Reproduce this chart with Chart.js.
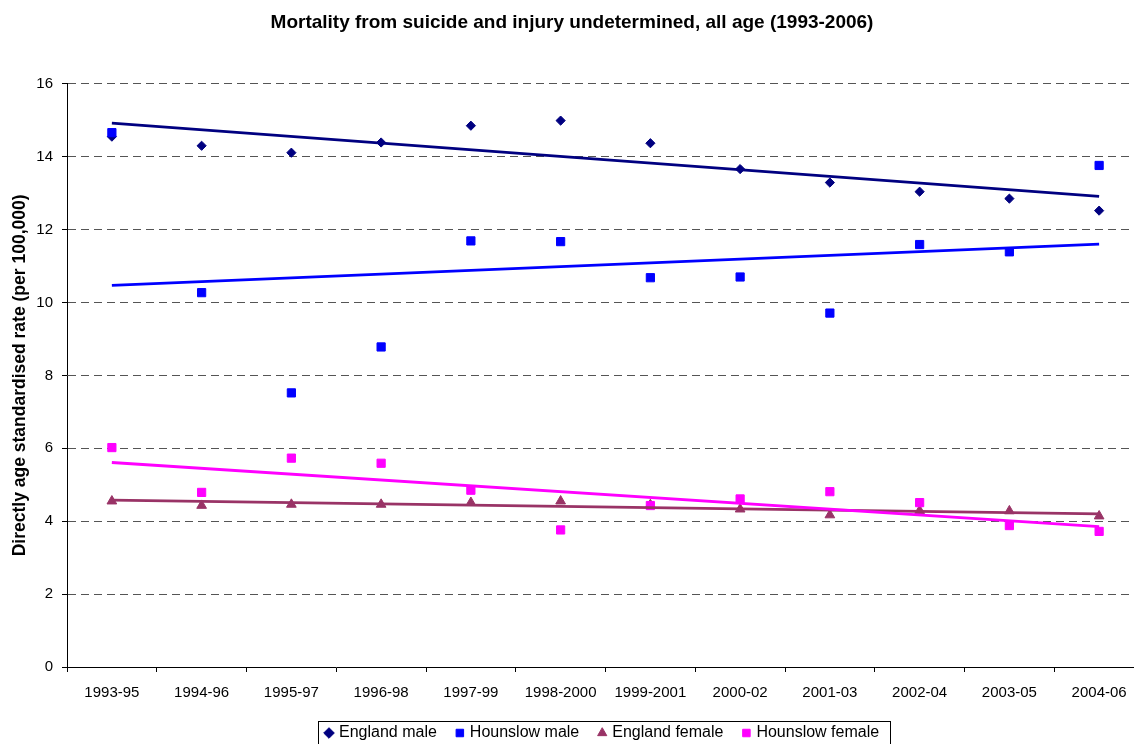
<!DOCTYPE html>
<html>
<head>
<meta charset="utf-8">
<script src="https://cdn.jsdelivr.net/npm/chart.js@4.4.0/dist/chart.umd.min.js"></script>
<style>
  html, body { margin: 0; padding: 0; background: #fff; overflow: hidden; }
  #wrap { width: 1134px; height: 744px; overflow: hidden; position: relative; }
  canvas { display: block; }
</style>
</head>
<body>
<div id="wrap"><canvas id="c" width="1152" height="751"></canvas></div>
<script>
const categories = ['1993-95','1994-96','1995-97','1996-98','1997-99','1998-2000','1999-2001','2000-02','2001-03','2002-04','2003-05','2004-06'];
const englandMale    = [14.55, 14.30, 14.11, 14.39, 14.85, 14.99, 14.37, 13.66, 13.29, 13.04, 12.85, 12.52];
const hounslowMale   = [14.66, 10.27, 7.52, 8.78, 11.69, 11.67, 10.68, 10.70, 9.71, 11.59, 11.39, 13.76];
const englandFemale  = [4.55, 4.43, 4.46, 4.46, 4.51, 4.55, 4.45, 4.33, 4.17, 4.29, 4.28, 4.14];
const hounslowFemale = [6.02, 4.79, 5.73, 5.59, 4.85, 3.76, 4.43, 4.61, 4.81, 4.51, 3.88, 3.72];
// linear trend lines: value at first and last category
const trendEnglandMale    = [14.92, 12.91];
const trendHounslowMale   = [10.47, 11.60];
const trendEnglandFemale  = [4.58, 4.20];
const trendHounslowFemale = [5.61, 3.85];
const yTicks = [0, 2, 4, 6, 8, 10, 12, 14, 16];

const FONT = "'Liberation Sans', Arial, sans-serif";
const last = categories.length - 1;
const endpoints = (t) => categories.map((c, i) => i === 0 ? t[0] : (i === last ? t[1] : null));

function pointSet(label, data, color, style, radius, order) {
  return {
    type: 'line', label, data, showLine: false,
    pointStyle: style, pointRadius: radius, pointHoverRadius: radius,
    pointBackgroundColor: color, pointBorderColor: color, pointBorderWidth: 1,
    backgroundColor: color, borderColor: color, order
  };
}
function trendSet(label, t, color, order) {
  return {
    type: 'line', label, data: endpoints(t), spanGaps: true,
    borderColor: color, backgroundColor: color, borderWidth: 2.8,
    pointRadius: 0, pointHoverRadius: 0, tension: 0, order, isTrend: true
  };
}

const LEGEND_START_X = 327;
const legendBox = {
  id: 'legendBox',
  afterLayout(chart) {
    const lg = chart.legend;
    if (!lg || !lg.lineWidths) return;
    const pad = lg.options.labels.padding;
    const start = (lg.left + pad + lg.right - lg.lineWidths[0]) / 2;
    const dx = LEGEND_START_X - start;
    lg.left += dx; lg.right += dx;
  },
  afterDraw(chart) {
    const lg = chart.legend;
    if (!lg || !lg.legendHitBoxes || !lg.legendHitBoxes.length) return;
    const hb = lg.legendHitBoxes;
    let x1 = Infinity, x2 = -Infinity, y1 = Infinity, y2 = -Infinity;
    hb.forEach(b => { x1 = Math.min(x1, b.left); x2 = Math.max(x2, b.left + b.width); y1 = Math.min(y1, b.top); y2 = Math.max(y2, b.top + b.height); });
    const ctx = chart.ctx;
    ctx.save();
    ctx.setLineDash([]);
    ctx.strokeStyle = '#000'; ctx.lineWidth = 1;
    ctx.strokeRect(Math.round(x1 - 9) + 0.5, Math.round(y1 - 4) + 0.5, Math.round(x2 - x1 + 20), Math.round(y2 - y1 + 8));
    ctx.restore();
  }
};

new Chart(document.getElementById('c'), {
  data: {
    labels: categories,
    datasets: [
      pointSet('England male', englandMale, '#000080', 'rectRot', 4.6, 7),
      pointSet('Hounslow male', hounslowMale, '#0000FF', 'rect', 5.8, 6),
      pointSet('England female', englandFemale, '#993366', 'triangle', 5.6, 5),
      pointSet('Hounslow female', hounslowFemale, '#FF00FF', 'rect', 5.8, 4),
      trendSet('trend England male', trendEnglandMale, '#000080', 3),
      trendSet('trend Hounslow male', trendHounslowMale, '#0000FF', 2),
      trendSet('trend England female', trendEnglandFemale, '#993366', 1),
      trendSet('trend Hounslow female', trendHounslowFemale, '#FF00FF', 0)
    ]
  },
  options: {
    responsive: false,
    devicePixelRatio: 1,
    animation: false,
    layout: { padding: { left: 0, right: 8, top: 0, bottom: 0 } },
    plugins: {
      title: {
        display: true,
        text: 'Mortality from suicide and injury undetermined, all age (1993-2006)',
        color: '#000',
        font: { family: FONT, size: 19, weight: 'bold' },
        padding: { top: 11, bottom: 50 }
      },
      legend: {
        position: 'bottom',
        labels: {
          color: '#000',
          font: { family: FONT, size: 16 },
          usePointStyle: true, boxWidth: 4, boxHeight: 7.5, padding: 21,
          filter: (item, data) => !data.datasets[item.datasetIndex].isTrend,
          sort: (a, b) => a.datasetIndex - b.datasetIndex
        }
      },
      tooltip: { enabled: false }
    },
    scales: {
      x: {
        type: 'category',
        offset: true,
        afterFit: (s) => { s.height = 37; },
        grid: { display: true, offset: true, drawOnChartArea: false, drawTicks: true, tickLength: 5, tickColor: '#000' },
        border: { display: true, color: '#000', width: 1 },
        ticks: { color: '#000', font: { family: FONT, size: 15 }, padding: 12, maxRotation: 0, autoSkip: false }
      },
      y: {
        min: 0, max: 16,
        afterFit: (s) => { s.width = 67; },
        afterBuildTicks: (s) => { s.ticks = yTicks.map(v => ({ value: v })); },
        grid: { color: '#555', drawTicks: true, tickLength: 5, tickColor: '#000', tickBorderDash: [] },
        border: { display: true, color: '#000', width: 1, dash: [8, 5] },
        ticks: { color: '#000', font: { family: FONT, size: 15 }, padding: 9 },
        title: {
          display: true,
          text: 'Directly age standardised rate (per 100,000)',
          color: '#000',
          font: { family: FONT, size: 17.5, weight: 'bold' },
          padding: { top: 10, bottom: 0 }
        }
      }
    }
  },
  plugins: [legendBox]
});
</script>
</body>
</html>
